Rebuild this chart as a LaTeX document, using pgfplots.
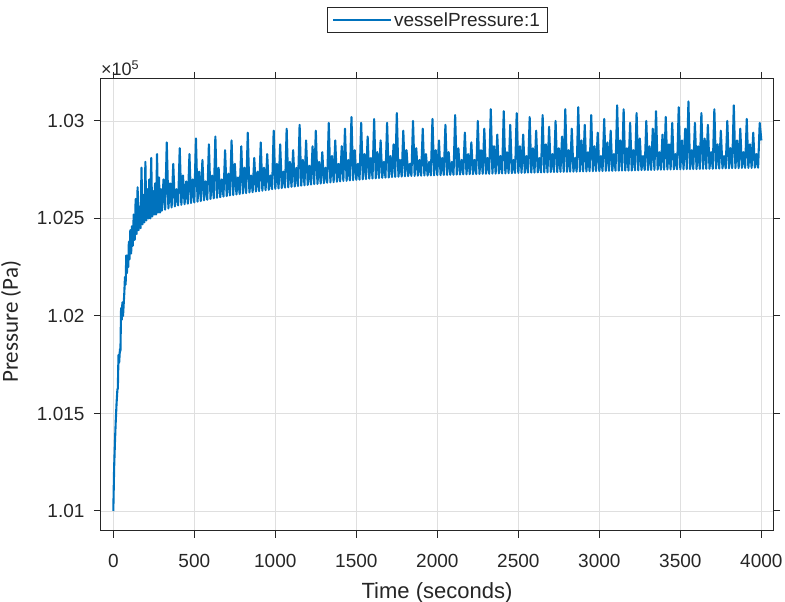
\documentclass[border=0pt]{standalone}
\usepackage{fontspec}
\setmainfont{Liberation Sans}
\newfontfamily\calibri{Carlito}
\usepackage{pgfplots}
\pgfplotsset{compat=1.18}
\definecolor{mblue}{RGB}{0,114,189}
\definecolor{axgray}{RGB}{38,38,38}
\definecolor{gridgray}{RGB}{223,223,223}

\begin{document}
\begin{tikzpicture}
\begin{axis}[
    scale only axis,
    width=672pt, height=451.7pt,
    xmin=-76, xmax=4072,
    ymin=100899, ymax=103215,
    xtick={0,500,...,4000},
    ytick={101000,101500,102000,102500,103000},
    yticklabels={1.01,1.015,1.02,1.025,1.03},
    scaled y ticks=false,
    scaled x ticks=false,
    tick align=outside,
    major tick length=7pt,
    grid=major,
    grid style={gridgray, line width=0.8pt},
    axis line style={axgray, line width=1pt},
    every tick/.style={axgray, line width=1pt},
    tick label style={font=\fontsize{19}{19}\selectfont, text=axgray},
    xticklabel style={yshift=-13pt},
    yticklabel style={xshift=-6pt},
    /pgf/number format/assume math mode=true,
    /pgf/number format/1000 sep={},
    xlabel={Time (seconds)},
    xlabel style={font=\fontsize{22}{22}\selectfont, text=axgray,
        at={(axis description cs:0.5,0)}, anchor=center, yshift=-62pt},
    ylabel={Pressure (Pa)},
    ylabel style={font=\calibri\fontsize{23}{23}\selectfont, text=axgray,
        at={(axis description cs:0,0.5)}, anchor=center, xshift=-17pt, yshift=90pt},
    legend style={at={(0.5,1)}, anchor=south, yshift=46pt,
        draw=axgray, line width=0.8pt,
        font=\fontsize{19}{19}\selectfont, text=axgray,
        inner xsep=5pt, inner ysep=3pt},
    legend image code/.code={\draw[#1] (0pt,0pt) -- (58pt,0pt);},
]
\addplot[mblue, line width=2.1pt, line join=round] coordinates {
(0,101000)(5,101220)(10,101350)(15,101460)(20,101550)(25,101620)(28,101630)(32,101800)(36,101760)(41,101830)
(44,101820)(48,102040)(52,101980)(56,102070)(60,102000)(64,102060)(68,102120)(72,102200)(76,102160)(80,102310)
(84,102220)(88,102290)(92,102250)(96,102380)(100,102290)(105,102440)(110,102320)(115,102460)(120,102360)(126,102520)
(132,102390)(138,102600)(144,102420)(150,102660)(156,102440)(162,102560)(168,102450)(174,102760)(180,102470)(186,102620)
(192,102480)(198,102790)(204,102490)(210,102650)(216,102500)(222,102700)(228,102500)(234,102810)(240,102510)(246,102640)
(252,102520)(258,102680)(264,102520)(270,102830)(276,102530)(282,102710)(288,102530)(294,102650)
(300,102540)(310,102700)(320,102545)(330,102890)(340,102551)(350,102680)(360,102556)(370,102780)(380,102562)(390,102650)
(400,102567)(410,102860)(420,102570)(430,102720)(440,102573)(450,102690)(460,102576)(470,102830)(480,102579)(490,102700)
(500,102582)(510,102910)(520,102586)(530,102740)(540,102589)(550,102800)(560,102593)(570,102690)(580,102596)(590,102880)
(600,102600)(610,102720)(620,102603)(630,102920)(640,102606)(650,102760)(660,102609)(670,102700)(680,102612)(690,102850)
(700,102615)(710,102730)(720,102618)(730,102900)(740,102620)(750,102780)(760,102623)(770,102710)(780,102625)(790,102870)
(800,102628)(810,102760)(820,102630)(830,102940)(840,102633)(850,102720)(860,102635)(870,102810)(880,102638)(890,102740)
(900,102640)(910,102890)(920,102642)(930,102760)(940,102645)(950,102830)(960,102647)(970,102720)(980,102650)(990,102950)
(1000,102652)(1010,102780)(1020,102654)(1030,102880)(1040,102656)(1050,102740)(1060,102658)(1070,102960)(1080,102660)(1090,102790)
(1100,102662)(1110,102850)(1120,102664)(1130,102760)(1140,102666)(1150,102980)(1160,102668)(1170,102800)(1180,102670)(1190,102900)
(1200,102672)(1210,102770)(1220,102674)(1230,102870)(1240,102676)(1250,102950)(1260,102677)(1270,102790)(1280,102679)(1290,102840)
(1300,102681)(1310,102760)(1320,102683)(1330,102990)(1340,102685)(1350,102820)(1360,102686)(1370,102900)(1380,102688)(1390,102780)
(1400,102690)(1410,102870)(1420,102692)(1430,102960)(1440,102693)(1450,102800)(1460,102695)(1470,103020)(1480,102696)(1490,102850)
(1500,102698)(1510,102780)(1520,102699)(1530,102990)(1540,102701)(1550,102830)(1560,102702)(1570,102920)(1580,102704)(1590,102810)
(1600,102705)(1610,103010)(1620,102706)(1630,102840)(1640,102707)(1650,102900)(1660,102708)(1670,102790)(1680,102709)(1690,102990)
(1700,102710)(1710,102820)(1720,102712)(1730,102880)(1740,102713)(1750,103040)(1760,102714)(1770,102800)(1780,102715)(1790,102950)
(1800,102716)(1810,102850)(1820,102717)(1830,102780)(1840,102718)(1850,103000)(1860,102718)(1870,102860)(1880,102719)(1890,102800)
(1900,102719)(1910,102960)(1920,102720)(1930,102830)(1940,102720)(1950,102790)(1960,102721)(1970,103010)(1980,102721)(1990,102850)
(2000,102722)(2010,102900)(2020,102722)(2030,102810)(2040,102723)(2050,102980)(2060,102723)(2070,102840)(2080,102724)(2090,102790)
(2100,102724)(2110,103030)(2120,102725)(2130,102860)(2140,102725)(2150,102800)(2160,102726)(2170,102940)(2180,102726)(2190,102830)
(2200,102727)(2210,102890)(2220,102727)(2230,102800)(2240,102728)(2250,103000)(2260,102728)(2270,102850)(2280,102729)(2290,102960)
(2300,102729)(2310,102810)(2320,102729)(2330,103060)(2340,102730)(2350,102870)(2360,102730)(2370,102930)(2380,102731)(2390,102820)
(2400,102731)(2410,103050)(2420,102731)(2430,102840)(2440,102732)(2450,102980)(2460,102732)(2470,102800)(2480,102733)(2490,103040)
(2500,102733)(2510,102870)(2520,102734)(2530,102930)(2540,102734)(2550,102820)(2560,102735)(2570,103020)(2580,102735)(2590,102860)
(2600,102735)(2610,102950)(2620,102736)(2630,102810)(2640,102736)(2650,103030)(2660,102737)(2670,102880)(2680,102737)(2690,102970)
(2700,102738)(2710,102830)(2720,102738)(2730,103000)(2740,102738)(2750,102860)(2760,102739)(2770,102920)(2780,102739)(2790,103060)
(2800,102739)(2810,102850)(2820,102740)(2830,102960)(2840,102740)(2850,102810)(2860,102740)(2870,103070)(2880,102741)(2890,102900)
(2900,102741)(2910,102980)(2920,102741)(2930,102840)(2940,102742)(2950,103030)(2960,102742)(2970,102870)(2980,102743)(2990,102940)
(3000,102743)(3010,102820)(3020,102743)(3030,103010)(3040,102744)(3050,102890)(3060,102744)(3070,102950)(3080,102744)(3090,102830)
(3100,102745)(3110,103080)(3120,102745)(3130,102900)(3140,102745)(3150,103060)(3160,102746)(3170,102860)(3180,102746)(3190,102990)
(3200,102746)(3210,102850)(3220,102747)(3230,103040)(3240,102747)(3250,102910)(3260,102748)(3270,102820)(3280,102748)(3290,103000)
(3300,102748)(3310,102870)(3320,102749)(3330,102960)(3340,102749)(3350,103050)(3360,102750)(3370,102840)(3380,102750)(3390,102930)
(3400,102750)(3410,103020)(3420,102751)(3430,102880)(3440,102751)(3450,102990)(3460,102752)(3470,102830)(3480,102752)(3490,103070)
(3500,102752)(3510,102900)(3520,102752)(3530,102960)(3540,102753)(3550,103100)(3560,102753)(3570,102850)(3580,102753)(3590,102990)
(3600,102753)(3610,102870)(3620,102754)(3630,103040)(3640,102754)(3650,102910)(3660,102755)(3670,102980)(3680,102755)(3690,102840)
(3700,102755)(3710,103060)(3720,102756)(3730,102880)(3740,102756)(3750,102950)(3760,102757)(3770,102820)(3780,102757)(3790,103000)
(3800,102757)(3810,102860)(3820,102758)(3830,103080)(3840,102758)(3850,102900)(3860,102758)(3870,102960)(3880,102759)(3890,102840)
(3900,102759)(3910,103010)(3920,102759)(3930,102880)(3940,102759)(3950,102940)(3960,102760)(3970,102830)(3980,102760)(3990,102990)
(4000,102900)
};
\addlegendentry{vesselPressure:1}
\end{axis}
\node[anchor=base west, inner sep=0pt, text=axgray, font=\fontsize{18}{18}\selectfont]
    at ([yshift=3pt]current axis.north west) {×10\textsuperscript{5}};
\pgfresetboundingbox
\path ([xshift=-101pt,yshift=-71.3pt]current axis.south west)
    rectangle ([xshift=12pt,yshift=79pt]current axis.north east);
\end{tikzpicture}
\end{document}
